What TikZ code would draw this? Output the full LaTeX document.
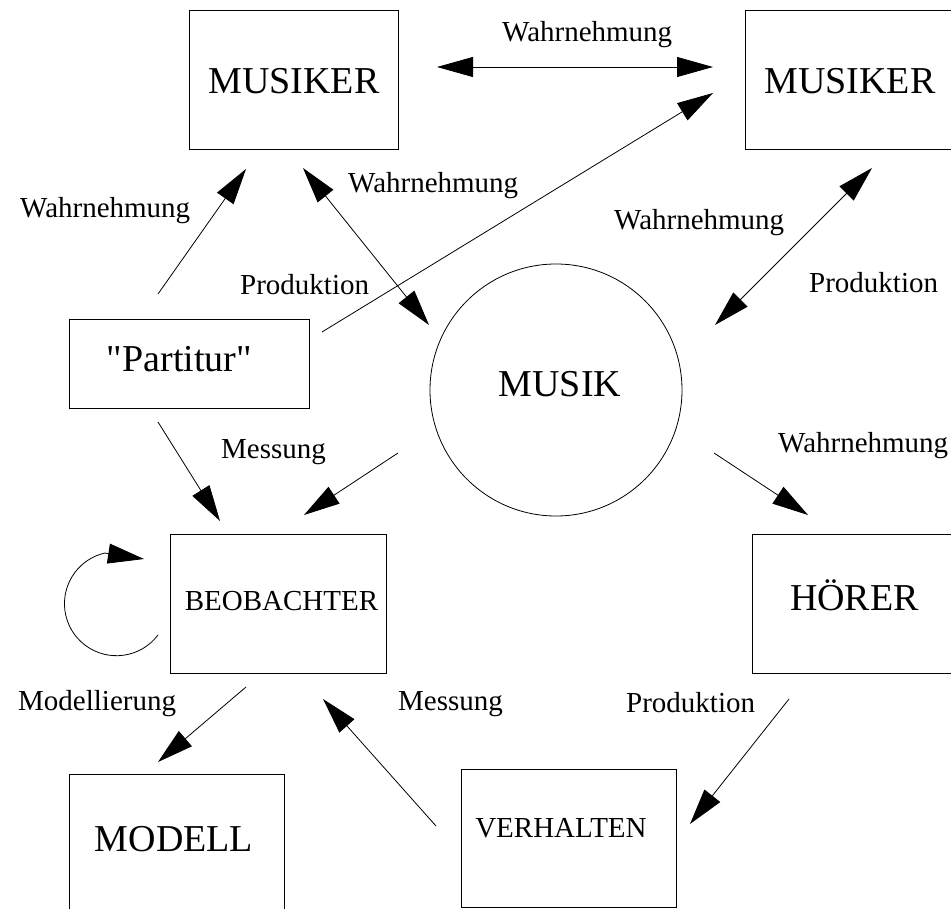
\documentclass[tikz,border=0pt]{standalone}
\usepackage{fontspec}
\setmainfont{Liberation Serif}[Ligatures=TeXOff]
\usetikzlibrary{arrows.meta}
\begin{document}
\begin{tikzpicture}[x=1pt,y=1pt,
  big/.style={font=\fontsize{38}{44}\selectfont},
  small/.style={font=\fontsize{29}{34}\selectfont},
  box/.style={draw, line width=0.9pt, inner sep=0pt, anchor=north west},
  lab/.style={small, inner sep=0pt, anchor=base west},
  arr/.style={line width=0.8pt, -{Triangle[length=36pt,width=20pt]}},
  darr/.style={line width=0.8pt, {Triangle[length=36pt,width=20pt]}-{Triangle[length=36pt,width=20pt]}},
]
\useasboundingbox (0,0) rectangle (951,-909);
\clip (0,0) rectangle (951,-909);

% boxes
\node[box,big,minimum width=209pt,text height=83pt,text depth=56pt] (m1) at (189,-10) {MUSIKER};
\node[box,big,minimum width=209pt,text height=83pt,text depth=56pt] (m2) at (745,-10) {MUSIKER};
\node[box,big,minimum width=240pt,text height=52pt,text depth=37pt] (part) at (69,-319) {"Partitur"\kern20pt};
\node[box,small,minimum width=216pt,text height=76pt,text depth=63pt] (beob) at (170,-534) {\kern6pt BEOBACHTER};
\node[box,big,minimum width=204pt,text height=76pt,text depth=63pt] (hoer) at (752,-534) {HÖRER};
\node[box,big,minimum width=215pt,text height=77pt,text depth=79pt] (modell) at (69,-774) {MODELL\kern6pt};
\node[box,small,minimum width=215pt,text height=68pt,text depth=70pt] (verh) at (461,-769) {VERHALTEN\kern16pt};
\node[draw,circle,big,minimum size=252pt,inner sep=0pt,text height=30pt,text depth=18pt,line width=0.8pt] (musik) at (556,-390) {\kern8pt MUSIK};

% connector ends
\coordinate (h1) at (437,-67);  \coordinate (h2) at (713,-67);
\coordinate (p1) at (322,-332); \coordinate (q1) at (713,-93);
\coordinate (p2) at (158,-294); \coordinate (q2) at (246,-169);
\coordinate (d1a) at (303,-168); \coordinate (d1b) at (429,-325);
\coordinate (d2a) at (872,-168); \coordinate (d2b) at (715,-325);
\coordinate (p3) at (158,-422); \coordinate (b1) at (220,-521);
\coordinate (k1) at (398,-453); \coordinate (b2) at (304,-515);
\coordinate (k2) at (714,-453); \coordinate (hh) at (808,-515);
\coordinate (b3) at (246,-687); \coordinate (mm) at (158,-762);
\coordinate (v1) at (436,-826); \coordinate (b4) at (323,-699);
\coordinate (h3) at (789,-699); \coordinate (v2) at (690,-824);
\coordinate (ls) at (158,-635); \coordinate (lt) at (144,-559);

% connectors
\draw[darr] (h1) -- (h2);
\draw[arr] (p1) -- (q1);
\draw[arr] (p2) -- (q2);
\draw[darr] (d1a) -- (d1b);
\draw[darr] (d2a) -- (d2b);
\draw[arr] (p3) -- (b1);
\draw[arr] (k1) -- (b2);
\draw[arr] (k2) -- (hh);
\draw[arr] (b3) -- (mm);
\draw[arr] (v1) -- (b4);
\draw[arr] (h3) -- (v2);
\draw[arr] (ls) arc[start angle=-37, end angle=-257, radius=52] -- (lt);

% labels
\node[lab] (l1) at (502,-42) {Wahrnehmung};
\node[lab] (l2) at (20,-218) {Wahrnehmung};
\node[lab] (l3) at (348,-193) {Wahrnehmung};
\node[lab] (l4) at (240,-295) {Produktion};
\node[lab] (l5) at (614,-230) {Wahrnehmung};
\node[lab] (l6) at (809,-293) {Produktion};
\node[lab] (l7) at (221,-458) {Messung};
\node[lab] (l8) at (778,-452) {Wahrnehmung};
\node[lab] (l9) at (18,-710) {Modellierung};
\node[lab] (l10) at (398,-710) {Messung};
\node[lab] (l11) at (626,-712) {Produktion};
\end{tikzpicture}
\end{document}
